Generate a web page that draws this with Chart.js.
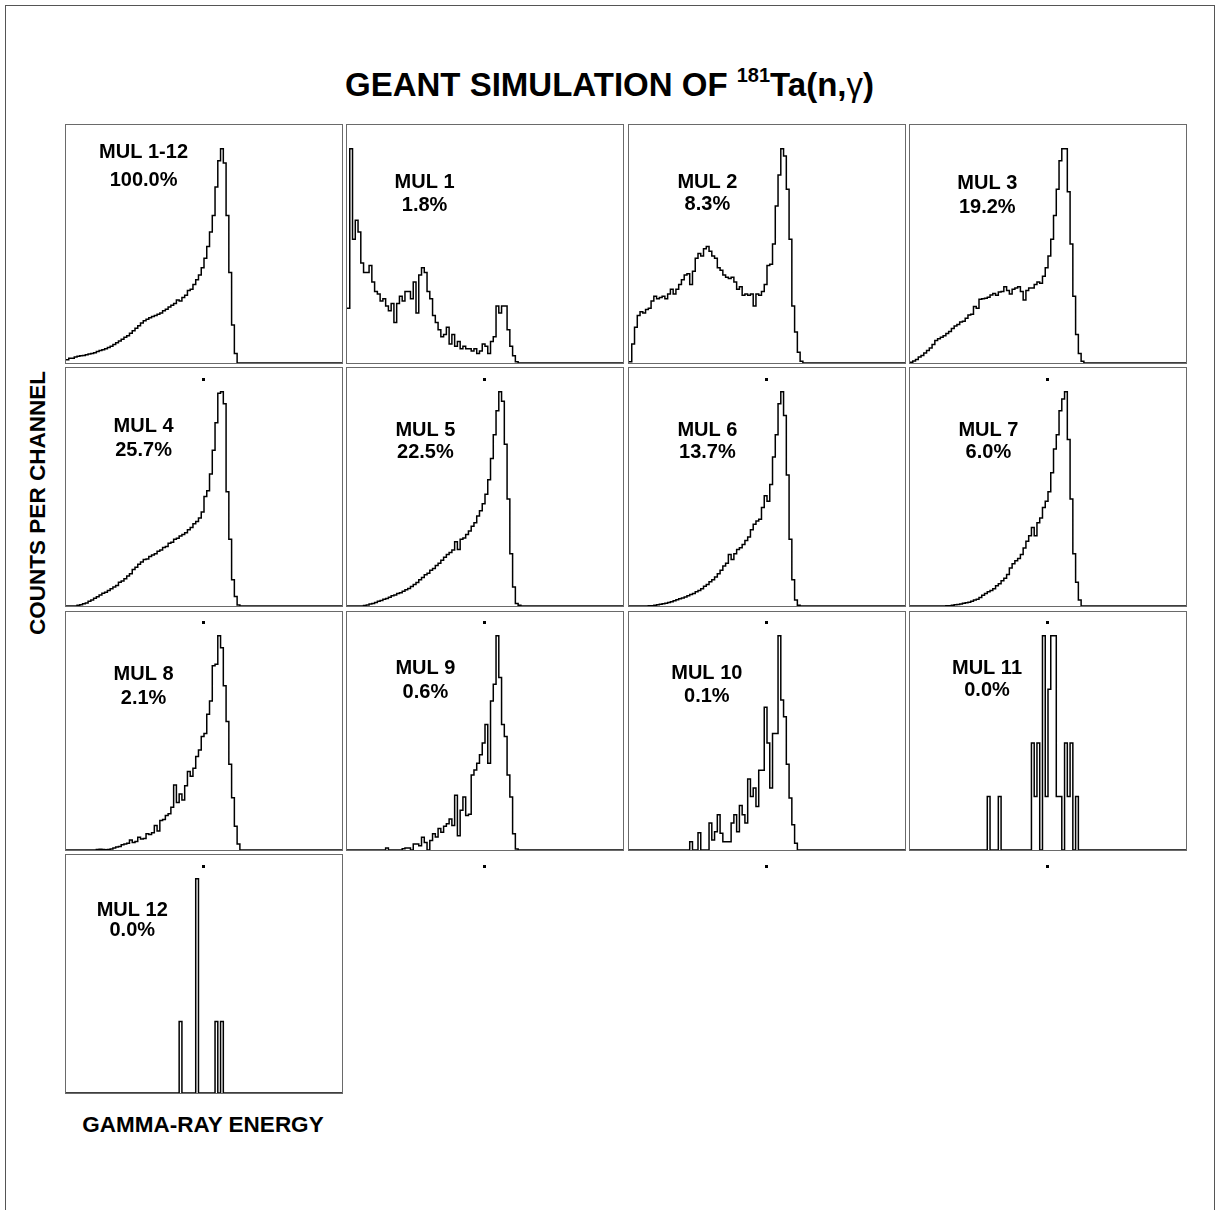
<!DOCTYPE html>
<html>
<head>
<meta charset="utf-8">
<script src="https://cdn.jsdelivr.net/npm/chart.js@4.4.0/dist/chart.umd.min.js"></script>
<style>
  body { margin: 0; background: #fff; }
  #page { position: relative; width: 1219px; height: 1210px; overflow: hidden; font-family: "Liberation Sans", Arial, sans-serif; }
  #frame { position: absolute; left: 5px; top: 5px; width: 1208px; height: 1230px; border: 1px solid #555; }
  #title { position: absolute; left: 0; top: 68px; width: 1219px; text-align: center; font-weight: bold; font-size: 33px; line-height: 33px; white-space: nowrap; }
  #title .sup { font-size: 20px; position: relative; top: -14px; }
  #title .g { font-weight: normal; }
  .lab { position: absolute; font-weight: bold; font-size: 22.5px; white-space: nowrap; }
  #ylab { left: 38px; top: 503px; transform: translate(-50%, -50%) rotate(-90deg); }
  #xlab { left: 203px; top: 1125px; transform: translate(-50%, -50%); }
  canvas { position: absolute; }
</style>
</head>
<body>
<div id="page">
  <div id="frame"></div>
  <div id="title">GEANT SIMULATION OF <span class="sup">181</span>Ta(n,<span class="g">γ</span>)</div>
  <div class="lab" id="ylab">COUNTS PER CHANNEL</div>
  <div class="lab" id="xlab">GAMMA-RAY ENERGY</div>
</div>
<script>
// panel titles and share of events
const names = ["MUL 1-12", "MUL 1", "MUL 2", "MUL 3", "MUL 4", "MUL 5", "MUL 6",
               "MUL 7", "MUL 8", "MUL 9", "MUL 10", "MUL 11", "MUL 12"];
const shares = ["100.0%", "1.8%", "8.3%", "19.2%", "25.7%", "22.5%", "13.7%",
                "6.0%", "2.1%", "0.6%", "0.1%", "0.0%", "0.0%"];

// counts per channel (scaled, % of panel height), channels 0..; rest are empty
const mulAll = [1.4,2,2,2.5,2.8,3,3.2,3.5,3.8,4,4.3,4.8,5.2,5.6,6,6.5,7,7.8,8.5,9.2,10,10.8,11.5,12.5,13.5,14.6,15.6,16.8,17.7,18.4,19,19.5,20,20.5,21,22,22.6,23.5,24.3,25,26.5,26,27.5,28.5,30.5,31,33,35,37,40,44,49,55,62,74,85,90,84,62,38,16,4];
const mul1 = [23,90,52,60,55,42,38,38,41,34,30,29,26,27,24,22,25,17,25,28,26,30,30,27,34,21,37,40,38,30,27,20,17,14,11,12,15,8,12,7,9,6,7,6,6,5,6,4,5,8,7,4,9,11,24,21,24,24,14,7,3,0.5];
const mul2 = [0.5,8,15,20,21.5,21,22.5,23,26,28,27,27.5,28,27,29,31,29,31,33,35,37,37.5,33,38.5,44,46,45,48,49,47,45,44,40,39,37,36,35.5,36,34,31,32,28.5,29,28.5,29,24,29,28.5,30,33,41,41.5,50,66,79,90,87,73,52,24,13,4.5,0.7];
const mul3 = [0.3,0.8,1.5,2.5,3.2,4.2,5.2,6.3,7.8,9.5,10.2,10.8,11.5,12.4,13.2,14.5,15.5,16.2,17.2,17.5,18.8,20.2,20.5,23.7,23,26.8,27,27.2,27.6,28.6,29.2,28.5,29.8,30,32,30.5,29,31,31.5,32,30,26.5,30.5,31.5,31.5,33,34,33.5,36.4,40,45,52,62,73,85,90,90,72,50,28,12,4,0.7];
const mul4 = [0,0,0,0,0.3,0.5,0.9,1.3,2,2.5,3.3,3.9,4.6,5.4,5.8,6.5,7.2,8,8.6,10,10.5,11.5,12.6,13.6,15.3,16.3,17.5,18.5,19.5,19.8,20.8,21.4,22,23,23.5,24.6,25,26.4,26.8,28,28.5,29.4,30,30.8,32,33,34.6,35.5,37,39.5,46,48.4,55.5,65.4,77,89.4,90,85,48,28,11,4,0.4];
const mul5 = [0,0,0,0,0,0,0.2,0.4,0.8,1.1,1.5,2,2.3,2.8,3.2,3.7,4.3,4.6,5.2,5.6,6.2,6.8,7.4,8.2,9,9.9,11,12,13.1,13.8,15,15.8,17,18,19.2,20.5,21.6,22.5,23.5,27,23.7,28,28.6,30,31.5,33.5,35,37.8,40,43,47,53,62,72,82,90,86,68,45,22,8,1,0.3];
const mul6 = [0,0,0,0,0,0,0,0.1,0.15,0.3,0.5,0.7,0.9,1.2,1.5,1.8,2.2,2.6,3,3.4,3.8,4.3,4.8,5.3,6,6.5,7.3,8.3,9,10.2,11,12.2,13.6,15,16.8,18,21.6,19.5,22,23.7,24.5,25.8,27.5,29,32,34.3,35.7,36.5,41.4,46.3,44,51,62.6,72,85,90,80,55,28,11,2.5,0.3];
const mul7 = [0,0,0,0,0,0,0,0,0,0,0,0,0,0.1,0.15,0.3,0.5,0.6,0.8,1.2,1.4,1.6,2,2.5,2.8,3.6,4.5,5.2,6,6.5,7.2,8.5,9.4,10.6,11.7,13.2,16,17.7,19,20,21.6,24.4,27.2,29.5,33,29.5,35,37,41.4,44,48,56,66,72,82,87,90,70,45,22,10,2.5];
const mul8 = [0,0,0,0,0,0,0,0,0,0,0,0.2,0.3,0.2,0.1,0.2,0.4,0.8,1.3,1.5,2.2,2.5,2.8,4.2,3.2,3.6,5.4,4.6,4.8,6.8,6.5,7.2,10.3,8,12.4,12.8,14.5,15.2,18,27.3,20,23.5,21,27,33,31,34.3,39.3,42,47.7,49,57,62.6,77.4,78,90,85,69,54,36,22,10,2.5];
const mul9 = [0,0,0,0,0,0,0,0,0,0,0,0,0,0,0.8,0,0,0,0,0,0.5,0.8,0.8,0,2.5,2.5,1.8,5.4,3.2,0,4,6.8,5.5,9,7.5,10,11,13,10.3,23,6,16.7,22.3,14.5,15,31.5,33.6,36.4,40,45,52.7,36.4,62.6,69.6,90,72.5,52.7,47.7,31.5,22.3,6.8,0.4];
const mul10 = [0,0,0,0,0,0,0,0,0,0,0,0,0,0,0,0,0,0,0,0,0,0,3.5,0,0,7.3,0,0,0,11.3,4.2,7.7,14.8,7,3.5,3.5,3.5,11.3,14.8,7.7,18.7,14.8,11.3,29.8,22.5,26,18.3,33.5,33.5,60,45,26,49,49,90,63,56,36,21.8,10.6,2.8];
const mul11 = [0,0,0,0,0,0,0,0,0,0,0,0,0,0,0,0,0,0,0,0,0,0,0,0,0,0,0,0,22.5,0,0,0,22.5,0,0,0,0,0,0,0,0,0,0,0,45,22.5,45,0,90,22.5,67.5,90,90,22.5,22.5,0,45,22.5,45,0,22.5];
const mul12 = [0,0,0,0,0,0,0,0,0,0,0,0,0,0,0,0,0,0,0,0,0,0,0,0,0,0,0,0,0,0,0,0,0,0,0,0,0,0,0,0,0,30,0,0,0,0,0,90,0,0,0,0,0,0,30,0,30];

const spectra = [mulAll, mul1, mul2, mul3, mul4, mul5, mul6, mul7, mul8, mul9, mul10, mul11, mul12];
const channels = 100;   // channels across each panel
const dotChannel = 49.7; // the small tick mark under each panel

// layout of the 4x4 grid (pixels)
const colLeft = [66, 347, 629, 910];
const rowTop = [125, 368, 612, 855];
const panelW = 276, panelH = 237, below = 26;
// label placement inside each panel: [x, name y, share y] as fractions
const labelPos = [
  [0.281, 0.114, 0.233], [0.281, 0.24, 0.337], [0.284, 0.24, 0.335], [0.28, 0.244, 0.346],
  [0.281, 0.244, 0.346], [0.284, 0.261, 0.357], [0.284, 0.261, 0.357], [0.284, 0.261, 0.357],
  [0.281, 0.264, 0.364], [0.284, 0.236, 0.339], [0.282, 0.258, 0.356], [0.279, 0.236, 0.33],
  [0.24, 0.232, 0.316]
];

const panelDeco = {
  id: "panelDeco",
  beforeDatasetsDraw(chart, args, opts) {
    const a = chart.chartArea, ctx = chart.ctx;
    ctx.save();
    ctx.strokeStyle = "#6a6a6a";
    ctx.lineWidth = 1;
    ctx.strokeRect(a.left - 0.5, a.top - 0.5, a.right - a.left + 1, a.bottom - a.top + 1);
    ctx.restore();
  },
  afterDraw(chart, args, opts) {
    const a = chart.chartArea, ctx = chart.ctx;
    const w = a.right - a.left, h = a.bottom - a.top;
    ctx.save();
    ctx.fillStyle = "#000";
    ctx.font = 'bold 20px "Liberation Sans", Arial, sans-serif';
    ctx.textAlign = "center";
    ctx.textBaseline = "middle";
    ctx.fillText(opts.name, a.left + opts.pos[0] * w, a.top + opts.pos[1] * h);
    ctx.fillText(opts.share, a.left + opts.pos[0] * w, a.top + opts.pos[2] * h);
    if (opts.dot) {
      const x = chart.scales.x.getPixelForValue(dotChannel);
      ctx.fillRect(Math.round(x) - 1, a.bottom + 15, 3, 3);
    }
    ctx.restore();
  }
};

const page = document.getElementById("page");

spectra.forEach((counts, i) => {
  const row = Math.floor(i / 4), col = i % 4;
  const cv = document.createElement("canvas");
  cv.width = panelW + 2;
  cv.height = panelH + 2 + below;
  cv.style.left = (colLeft[col] - 1) + "px";
  cv.style.top = (rowTop[row] - 1) + "px";
  page.appendChild(cv);

  const pts = counts.map((v, ch) => ({ x: ch, y: v }));
  pts.push({ x: counts.length, y: 0 });
  pts.push({ x: channels, y: 0 });

  new Chart(cv.getContext("2d"), {
    type: "line",
    data: {
      datasets: [{
        data: pts,
        stepped: "before",
        borderColor: "#000",
        borderWidth: 1.5,
        pointRadius: 0,
        fill: false
      }]
    },
    options: {
      responsive: false,
      animation: false,
      events: [],
      layout: { padding: { left: 1, right: 1, top: 1, bottom: below }, autoPadding: false },
      scales: {
        x: { type: "linear", min: 0, max: channels, display: false },
        y: { min: 0, max: 100, display: false }
      },
      plugins: {
        legend: { display: false },
        tooltip: { enabled: false },
        panelDeco: { name: names[i], share: shares[i], pos: labelPos[i], dot: row < 3 }
      }
    },
    plugins: [panelDeco]
  });
});
</script>
</body>
</html>
